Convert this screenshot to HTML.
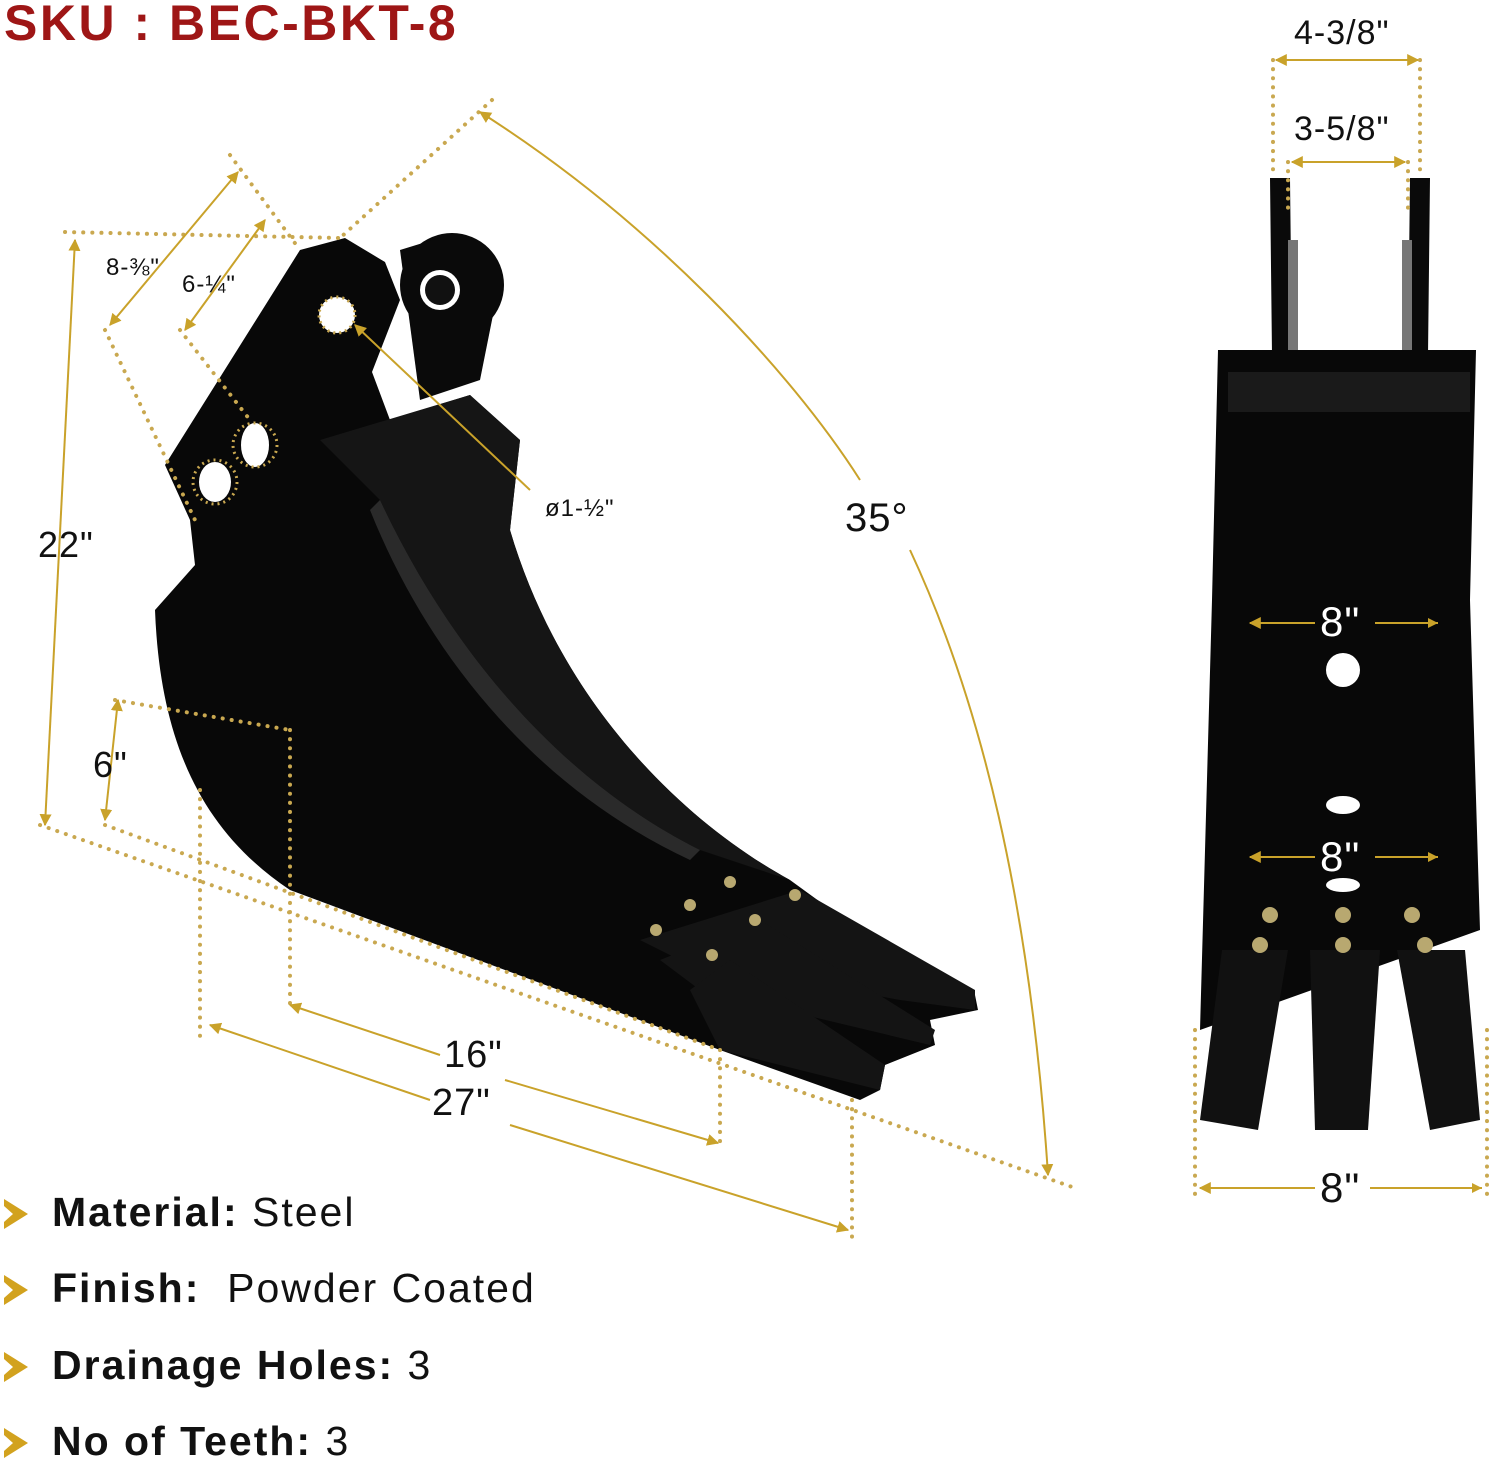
<!DOCTYPE html>
<html><head><meta charset="utf-8"><style>
html,body{margin:0;padding:0;background:#fff;}
body{width:1500px;height:1465px;position:relative;overflow:hidden;font-family:"Liberation Sans",sans-serif;}
.t{position:absolute;color:#111;white-space:nowrap;letter-spacing:1px;}
.sku{position:absolute;left:4px;top:-6px;font-size:50px;font-weight:bold;color:#9e1616;letter-spacing:2.5px;}
.li{position:absolute;left:52px;font-size:41px;color:#111;white-space:nowrap;letter-spacing:2px;}
.li b{font-weight:bold;}
.chev{position:absolute;left:4px;width:0;height:0;border-top:15px solid transparent;border-bottom:15px solid transparent;border-left:24px solid #d2a21e;}
.chev:after{content:"";position:absolute;left:-24px;top:-8px;border-top:8px solid transparent;border-bottom:8px solid transparent;border-left:9px solid #fff;}
</style></head><body>
<div class="sku">SKU : BEC-BKT-8</div>

<svg width="1500" height="1465" style="position:absolute;left:0;top:0">
<defs>
<marker id="a" viewBox="0 0 10 10" refX="9" refY="5" markerWidth="6" markerHeight="6" orient="auto-start-reverse"><path d="M0,0L10,5L0,10z" fill="#c9a22a"/></marker>
</defs>
<path d="M155,610 L195,565 L190,520 L165,465 L300,250 L345,238 L385,262 L400,300 L372,372 L390,420 L470,395 L520,440 L510,530 C560,700 680,820 790,880 L900,960 L975,995 L978,1010 L930,1020 L935,1045 L885,1065 L880,1090 L860,1100 L720,1050 L290,890 C200,830 160,740 155,610 Z" fill="#080808"/>
<circle cx="452" cy="285" r="52" fill="#0a0a0a"/>
<path d="M400,250 L452,234 L500,280 L480,380 L420,400 Z" fill="#0a0a0a"/>
<circle cx="440" cy="290" r="20" fill="#fff"/><circle cx="440" cy="290" r="15" fill="#111"/>
<circle cx="337" cy="315" r="18" fill="#fff"/><circle cx="337" cy="315" r="18" fill="none" stroke="#c9a850" stroke-width="3" stroke-dasharray="2 4"/>
<ellipse cx="255" cy="445" rx="14" ry="22" fill="#fff"/><circle cx="255" cy="445" r="22" fill="none" stroke="#c9a850" stroke-width="3" stroke-dasharray="2 4"/>
<ellipse cx="215" cy="482" rx="16" ry="20" fill="#fff"/><circle cx="215" cy="482" r="22" fill="none" stroke="#c9a850" stroke-width="3" stroke-dasharray="2 4"/>
<path d="M320,440 L470,395 L520,440 L510,530 C560,700 680,820 790,880 L700,850 C560,780 450,650 380,500 Z" fill="#151515"/>
<path d="M380,500 C450,650 560,780 700,850 L690,860 C540,790 430,660 370,510 Z" fill="#2a2a2a"/>
<g fill="#141414">
<path d="M640,940 L800,890 L975,990 L975,1010 L900,1000 L680,960Z"/>
<path d="M660,960 L760,920 L935,1030 L930,1045 L700,990Z"/>
<path d="M690,990 L730,960 L885,1065 L880,1090 L720,1050Z"/>
</g>
<g fill="#b8a870"><circle cx="656" cy="930" r="6"/><circle cx="690" cy="905" r="6"/><circle cx="730" cy="882" r="6"/><circle cx="795" cy="895" r="6"/><circle cx="755" cy="920" r="6"/><circle cx="712" cy="955" r="6"/></g>

<path d="M1270,178 L1290,178 L1292,355 L1272,355Z M1410,178 L1430,178 L1428,355 L1408,355Z" fill="#0a0a0a"/>
<rect x="1288" y="240" width="10" height="115" fill="#777"/><rect x="1402" y="240" width="10" height="115" fill="#777"/>
<path d="M1218,350 L1476,350 L1470,600 L1480,930 L1200,1030 L1212,600 Z" fill="#080808"/>
<rect x="1228" y="372" width="242" height="40" fill="#1a1a1a"/>
<circle cx="1343" cy="670" r="17" fill="#fff"/>
<ellipse cx="1343" cy="805" rx="17" ry="9" fill="#fff"/>
<ellipse cx="1343" cy="885" rx="17" ry="7" fill="#fff"/>
<g fill="#111">
<path d="M1222,950 L1288,950 L1258,1130 L1200,1120Z"/>
<path d="M1310,950 L1380,950 L1368,1130 L1315,1130Z"/>
<path d="M1397,950 L1465,950 L1480,1120 L1430,1130Z"/>
</g>
<g fill="#b8a870"><circle cx="1270" cy="915" r="8"/><circle cx="1260" cy="945" r="8"/><circle cx="1343" cy="915" r="8"/><circle cx="1343" cy="945" r="8"/><circle cx="1412" cy="915" r="8"/><circle cx="1425" cy="945" r="8"/></g>

<g stroke="#c9a850" stroke-width="4" stroke-dasharray="0.1 9" stroke-linecap="round" fill="none">
<path d="M65,232 L340,238 M40,825 L1075,1188 M492,100 L340,238 M230,155 L300,250 M105,330 L195,520 M180,330 L250,420 M115,700 L290,730 M290,730 L290,1005 M200,790 L200,1040 M720,1050 L720,1145 M852,1100 L852,1245 M105,825 L720,1050"/>
<path d="M1273,60 L1273,178 M1420,60 L1420,178 M1288,162 L1288,215 M1408,162 L1408,215 M1195,1030 L1195,1195 M1487,1030 L1487,1195"/>
</g>
<g stroke="#c9a22a" stroke-width="2" fill="none">
<path d="M75,240 L45,825" marker-start="url(#a)" marker-end="url(#a)"/>
<path d="M118,700 L105,820" marker-start="url(#a)" marker-end="url(#a)"/>
<path d="M238,172 L110,325" marker-start="url(#a)" marker-end="url(#a)"/>
<path d="M265,220 L185,330" marker-start="url(#a)" marker-end="url(#a)"/>
<path d="M530,490 L355,325" marker-end="url(#a)"/>
<path d="M480,112 C650,220 790,370 860,480" marker-start="url(#a)"/>
<path d="M910,550 C980,700 1030,900 1048,1175" marker-end="url(#a)"/>
<path d="M290,1005 L440,1055 M505,1080 L718,1143" marker-start="url(#a)" marker-end="url(#a)"/>
<path d="M210,1025 L430,1100 M510,1125 L848,1230" marker-start="url(#a)" marker-end="url(#a)"/>
<path d="M1276,60 L1418,60" marker-start="url(#a)" marker-end="url(#a)"/>
<path d="M1292,162 L1405,162" marker-start="url(#a)" marker-end="url(#a)"/>
<path d="M1250,623 L1315,623 M1375,623 L1438,623" marker-start="url(#a)"/>
<path d="M1250,857 L1315,857 M1375,857 L1438,857" marker-start="url(#a)"/>
<path d="M1200,1188 L1315,1188 M1370,1188 L1482,1188" marker-start="url(#a)"/>
</g>
<g fill="#c9a22a"><path d="M1438,623 l-10,-5 v10z M1438,857 l-10,-5 v10z M1482,1188 l-10,-5 v10z"/></g>
</svg>

<div class="t" style="left:106px;top:254px;font-size:24px">8-⅜"</div>
<div class="t" style="left:182px;top:271px;font-size:24px">6-¼"</div>
<div class="t" style="left:38px;top:524px;font-size:36px">22"</div>
<div class="t" style="left:93px;top:744px;font-size:36px">6"</div>
<div class="t" style="left:545px;top:495px;font-size:24px">ø1-½"</div>
<div class="t" style="left:845px;top:496px;font-size:40px">35°</div>
<div class="t" style="left:444px;top:1034px;font-size:38px">16"</div>
<div class="t" style="left:432px;top:1082px;font-size:38px">27"</div>
<div class="t" style="left:1294px;top:14px;font-size:34px">4-3/8"</div>
<div class="t" style="left:1294px;top:110px;font-size:34px">3-5/8"</div>
<div class="t" style="left:1320px;top:598px;font-size:42px;color:#fff">8"</div>
<div class="t" style="left:1320px;top:833px;font-size:42px;color:#fff">8"</div>
<div class="t" style="left:1320px;top:1164px;font-size:42px">8"</div>

<div class="chev" style="top:1199px"></div><div class="li" style="top:1189px"><b>Material:</b> Steel</div>
<div class="chev" style="top:1275px"></div><div class="li" style="top:1265px"><b>Finish:</b>&nbsp; Powder Coated</div>
<div class="chev" style="top:1352px"></div><div class="li" style="top:1342px"><b>Drainage Holes:</b> 3</div>
<div class="chev" style="top:1428px"></div><div class="li" style="top:1418px"><b>No of Teeth:</b> 3</div>
</body></html>
